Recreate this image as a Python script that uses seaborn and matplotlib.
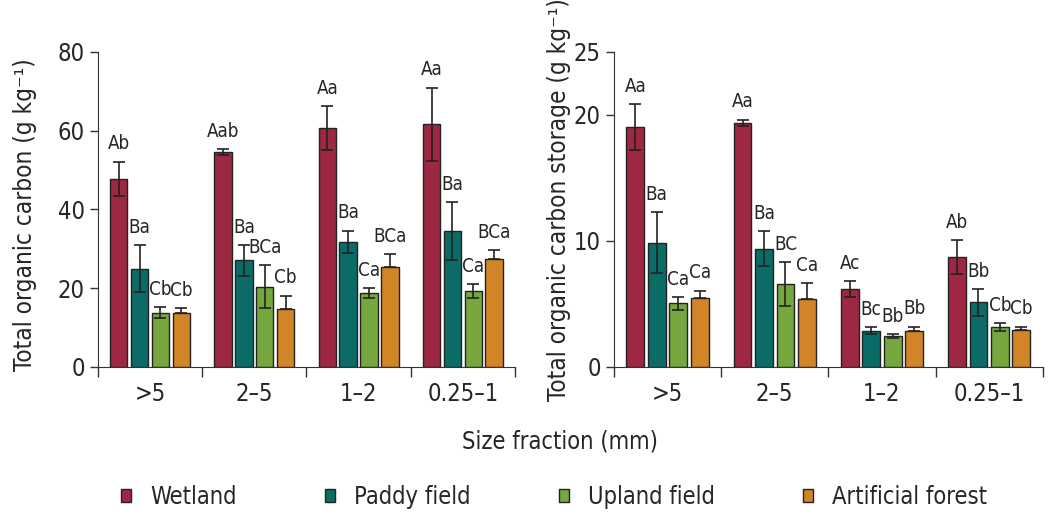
import numpy as np
import pandas as pd
import seaborn as sns
import matplotlib.pyplot as plt

sns.set_style('white')
plt.rcParams['font.family'] = ['DejaVu Sans']
plt.rcParams['font.stretch'] = 'condensed'

fractions = ['>5', '2–5', '1–2', '0.25–1']
land_uses = ['Wetland', 'Paddy field', 'Upland field', 'Artificial forest']
colores = ['#9E2842', '#0B6B66', '#76A73F', '#D28526']

# carbono orgânico total (g kg-1), por uso do solo em cada fração
toc = {
    'Wetland': [47.7, 54.5, 60.7, 61.6],
    'Paddy field': [25.0, 27.1, 31.8, 34.5],
    'Upland field': [13.8, 20.4, 18.8, 19.2],
    'Artificial forest': [13.6, 14.7, 25.5, 27.5],
}
toc_err = {
    'Wetland': [4.4, 0.8, 5.5, 9.3],
    'Paddy field': [5.9, 3.9, 2.8, 7.3],
    'Upland field': [1.4, 5.4, 1.2, 1.8],
    'Artificial forest': [1.4, 3.4, 3.2, 2.1],
}
toc_letras = {
    'Wetland': ['Ab', 'Aab', 'Aa', 'Aa'],
    'Paddy field': ['Ba', 'Ba', 'Ba', 'Ba'],
    'Upland field': ['Cb', 'BCa', 'Ca', 'Ca'],
    'Artificial forest': ['Cb', 'Cb', 'BCa', 'BCa'],
}

# estoque de carbono orgânico
stock = {
    'Wetland': [19.05, 19.36, 6.19, 8.74],
    'Paddy field': [9.86, 9.39, 2.89, 5.12],
    'Upland field': [5.06, 6.58, 2.47, 3.17],
    'Artificial forest': [5.46, 5.40, 2.86, 2.96],
}
stock_err = {
    'Wetland': [1.8, 0.26, 0.6, 1.34],
    'Paddy field': [2.4, 1.4, 0.26, 1.07],
    'Upland field': [0.5, 1.76, 0.13, 0.29],
    'Artificial forest': [0.6, 1.26, 0.34, 0.24],
}
stock_letras = {
    'Wetland': ['Aa', 'Aa', 'Ac', 'Ab'],
    'Paddy field': ['Ba', 'Ba', 'Bc', 'Bb'],
    'Upland field': ['Ca', 'BC', 'Bb', 'Cb'],
    'Artificial forest': ['Ca', 'Ca', 'Bb', 'Cb'],
}


def monta_df(valores):
    linhas = []
    for uso in land_uses:
        for fr, v in zip(fractions, valores[uso]):
            linhas.append({'fraction': fr, 'uso': uso, 'valor': v})
    return pd.DataFrame(linhas)


def painel(ax, valores, erros, letras, ymax, yticks, ylabel):
    df = monta_df(valores)
    sns.barplot(data=df, x='fraction', y='valor', hue='uso', order=fractions,
                hue_order=land_uses, palette=colores, width=0.8, gap=0.17,
                errorbar=None, edgecolor='#222222', linewidth=1.0, saturation=1,
                ax=ax, legend=True)
    for uso, cont in zip(land_uses, ax.containers):
        for i, barra in enumerate(cont):
            x = barra.get_x() + barra.get_width() / 2
            h = barra.get_height()
            e = erros[uso][i]
            baixo = 0 if uso == 'Artificial forest' else e
            ax.errorbar(x, h, yerr=[[baixo], [e]], fmt='none', ecolor='#222222',
                        elinewidth=1.2, capsize=4, capthick=1.2, zorder=3)
            ax.annotate(letras[uso][i], (x, h + e), xytext=(0, 6),
                        textcoords='offset points', ha='center', va='bottom',
                        fontsize=13.5)
    ax.set_xlim(-0.5, 3.5)
    ax.set_ylim(0, ymax)
    ax.set_yticks(yticks)
    ax.set_xticks([-0.5, 0.5, 1.5, 2.5, 3.5])
    ax.set_xticklabels([])
    ax.set_xticks(range(4), minor=True)
    ax.set_xticklabels(fractions, minor=True, fontsize=17)
    ax.tick_params(axis='x', which='major', length=7, width=1, direction='out',
                   bottom=True, color='#333333')
    ax.tick_params(axis='x', which='minor', length=0, pad=11)
    ax.tick_params(axis='y', length=6, width=1, direction='out', left=True,
                   color='#333333', labelsize=17)
    ax.set_xlabel('')
    ax.set_ylabel(ylabel, fontsize=17.5)
    sns.despine(ax=ax)
    for s in ['left', 'bottom']:
        ax.spines[s].set_color('#333333')
    handles, labels = ax.get_legend_handles_labels()
    ax.get_legend().remove()
    return handles, labels


fig = plt.figure(figsize=(10.64, 5.14), dpi=100)
ax1 = fig.add_axes([0.092, 0.286, 0.392, 0.613])
ax2 = fig.add_axes([0.577, 0.286, 0.403, 0.613])

handles, labels = painel(ax1, toc, toc_err, toc_letras, 80, [0, 20, 40, 60, 80],
                         'Total organic carbon (g kg⁻¹)')
painel(ax2, stock, stock_err, stock_letras, 25, [0, 10, 20, 25],
       'Total organic carbon storage (g kg⁻¹)')

ax1.yaxis.set_label_coords(-0.145, 0.485)
ax2.yaxis.set_label_coords(-0.1, 0.53)

fig.text(0.526, 0.142, 'Size fraction (mm)', ha='center', va='center', fontsize=17)
fig.legend(handles, labels, loc='center', bbox_to_anchor=(0.521, 0.033), ncol=4,
           frameon=False, fontsize=17, handlelength=0.42, handleheight=0.42,
           handletextpad=0.8, columnspacing=3.75)

fig.savefig('out.png', dpi=100)
